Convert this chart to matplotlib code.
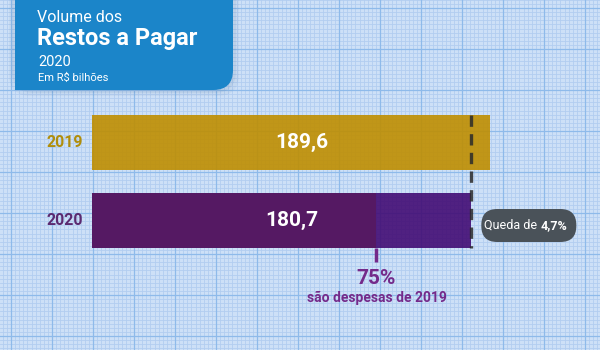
"""Restos a Pagar: 2019 vs 2020, horizontal bars on graph-paper background."""
import matplotlib
matplotlib.use("Agg")
import matplotlib.pyplot as plt
from matplotlib.patches import FancyBboxPatch, Rectangle
import numpy as np

plt.rcParams["font.family"] = ["Roboto", "DejaVu Sans"]

years = ["2019", "2020"]
values = [189.6, 180.7]          # R$ bilhões
share_2019 = 0.75                # parcela de 2020 que são despesas de 2019
value_labels = ["189,6", "180,7"]

GOLD = "#bf8e00"
GOLD_TXT = "#b08e0c"
PURPLE = "#551963"
PURPLE_LIGHT = "#420c74"
PURPLE_TXT = "#5b2a70"
ACCENT = "#742a8a"
BLUE_BOX = "#1b85c9"
PILL = "#4a5259"

W, H = 600, 350
fig = plt.figure(figsize=(W / 100, H / 100), dpi=100)

# graph-paper background, pixel coordinates
bg = fig.add_axes([0, 0, 1, 1], zorder=0)
bg.set_xlim(0, W)
bg.set_ylim(H, 0)
bg.axis("off")
bg.add_patch(Rectangle((0, 0), W, H, facecolor="#cde0f7", edgecolor="none"))
minor = 41 / 10
for x in np.arange(11 - 41, W, minor):
    bg.axvline(x, color="#b2cdf0", lw=0.6, zorder=1)
for y in np.arange(8 - 41, H, minor):
    bg.axhline(y, color="#b2cdf0", lw=0.6, zorder=1)
for x in np.arange(11, W, 41):
    bg.axvline(x, color="#8ebaea", lw=0.9, zorder=2)
for y in np.arange(8, H, 41):
    bg.axhline(y, color="#8ebaea", lw=0.9, zorder=2)

# title card with rounded bottom-right corner and soft shadow
for pad, a in [(6, 0.05), (3, 0.07)]:
    bg.add_patch(FancyBboxPatch((15 - pad, -40), 218 + 2 * pad, 130 + pad,
                                boxstyle="round,pad=0,rounding_size=22",
                                facecolor="#3a5a80", edgecolor="none",
                                alpha=a, zorder=3))
bg.add_patch(FancyBboxPatch((15, -40), 218, 130,
                            boxstyle="round,pad=0,rounding_size=20",
                            facecolor=BLUE_BOX, edgecolor="none", zorder=4))
bg.add_patch(Rectangle((15, -40), 100, 130, facecolor=BLUE_BOX,
                       edgecolor="none", zorder=4))
bg.text(37, 17, "Volume dos", color="white", fontsize=11.5, va="center", zorder=5)
bg.text(37, 38, "Restos a Pagar", color="white", fontsize=17,
        fontweight="bold", va="center", zorder=5)
bg.text(38, 62, "2020", color="white", fontsize=10.5, va="center", zorder=5)
bg.text(38, 78, "Em R$ bilhões", color="white", fontsize=8, va="center", zorder=5)

# bar axes: x in R$ bilhões, y in category rows
px0 = 92
px_per_unit = (490 - px0) / values[0]
row_px = 78
ax = fig.add_axes([0, 0, 1, 1], zorder=1)
ax.set_facecolor("none")
ax.set_xlim(-px0 / px_per_unit, (W - px0) / px_per_unit)
ax.set_ylim((H - 142.5) / row_px, -142.5 / row_px)
ax.axis("off")

bar_h = 55 / row_px
y_pos = np.arange(len(years))
ax.barh(y_pos[0], values[0], height=bar_h, color=GOLD, alpha=0.9, zorder=2)
split = values[1] * share_2019
ax.barh(y_pos[1], split, height=bar_h, color=PURPLE, zorder=2)
ax.barh(y_pos[1], values[1] - split, left=split, height=bar_h,
        color=PURPLE_LIGHT, alpha=0.9, zorder=2)

for y, lab, v in zip(y_pos, value_labels, values):
    ax.text(v / 2 + 5, y, lab, color="white", fontsize=15, fontweight="bold",
            ha="center", va="center", zorder=4)

for y, yr, c in zip(y_pos, years, [GOLD_TXT, PURPLE_TXT]):
    ax.text(-9 / px_per_unit, y, yr, color=c, fontsize=11.5, fontweight="bold",
            ha="right", va="center", zorder=4)

# dashed reference at the 2020 total
top = y_pos[0] - bar_h / 2
bottom = y_pos[1] + bar_h / 2
ax.plot([values[1], values[1]], [top, bottom], color="#2b2b2b", lw=2.4,
        alpha=0.85, linestyle=(0, (3.4, 2.2)), zorder=3)

# drop pill, placed in pixel space next to the end of the 2020 bar
drop = (values[0] - values[1]) / values[0] * 100
pill_left = px0 + values[1] * px_per_unit + 10
pill_cy = 142.5 + row_px * y_pos[1] + 5
bg.add_patch(FancyBboxPatch((pill_left, pill_cy - 16.5), 95, 33,
                            boxstyle="round,pad=0,rounding_size=16",
                            facecolor=PILL, edgecolor="none", zorder=6))
split_px = pill_left + 59
bg.text(split_px, pill_cy, "Queda de ", color="white", fontsize=9,
        ha="right", va="center", zorder=7)
bg.text(split_px, pill_cy, f"{drop:.1f}%".replace(".", ","), color="white",
        fontsize=9, fontweight="bold", ha="left", va="center", zorder=7)

# 75% marker below the 2020 bar
ax.plot([split, split], [bottom, bottom + 14 / row_px], color=ACCENT, lw=2.5,
        solid_capstyle="butt", zorder=3)
ax.text(split, bottom + 30 / row_px, f"{share_2019 * 100:.0f}%", color=ACCENT,
        fontsize=15, fontweight="bold", ha="center", va="center", zorder=4)
ax.text(split, bottom + 50 / row_px, "são despesas de 2019", color=ACCENT,
        fontsize=10, fontweight="bold", ha="center", va="center", zorder=4)

fig.savefig("out.png", dpi=100)
